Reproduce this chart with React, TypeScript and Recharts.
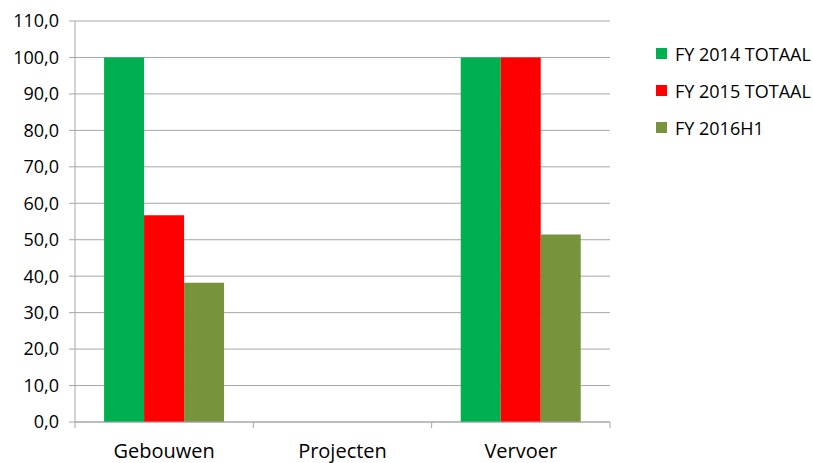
import React from 'react'
import { BarChart, Bar, XAxis, YAxis, CartesianGrid } from 'recharts'

const categories = ['Gebouwen', 'Projecten', 'Vervoer']
const fy2014 = [100, 0, 100]
const fy2015 = [56.7, 0, 100]
const fy2016h1 = [38.2, 0, 51.4]
const yTicks = [0, 10, 20, 30, 40, 50, 60, 70, 80, 90, 100, 110]

const series = [
  { key: 'fy2014', name: 'FY 2014 TOTAAL', color: '#00B050' },
  { key: 'fy2015', name: 'FY 2015 TOTAAL', color: '#FF0000' },
  { key: 'fy2016h1', name: 'FY 2016H1', color: '#77933C' },
]

const data = categories.map((c, i) => ({
  name: c,
  fy2014: fy2014[i],
  fy2015: fy2015[i],
  fy2016h1: fy2016h1[i],
}))

const font = '"Open Sans", "Liberation Sans", sans-serif'
const axisColor = '#A6A6A6'

const XTick = (props: any) => {
  const { x, y, payload, width } = props
  const band = width / categories.length
  return (
    <g>
      <line x1={x + band / 2} y1={y - 8} x2={x + band / 2} y2={y - 2} stroke={axisColor} />
      {payload.index === 0 && (
        <line x1={x - band / 2} y1={y - 8} x2={x - band / 2} y2={y - 2} stroke={axisColor} />
      )}
      <text x={x} y={y + 28} textAnchor="middle" fill="#000" fontSize={20} fontFamily={font}>
        {payload.value}
      </text>
    </g>
  )
}

// legend drawn as an overlay so it does not squeeze the plot area
const ChartLegend = () => (
  <div style={{ position: 'absolute', left: 656, top: 35, fontFamily: font, fontSize: 18, color: '#000', whiteSpace: 'nowrap' }}>
    {series.map((s) => (
      <div key={s.key} style={{ display: 'flex', alignItems: 'center', height: 37 }}>
        <span style={{ width: 11, height: 11, background: s.color, marginRight: 8, display: 'inline-block' }} />
        {s.name}
      </div>
    ))}
  </div>
)

export default function App() {
  return (
    <div style={{ position: 'absolute', left: 0, top: 0, width: 813, height: 463, overflow: 'hidden', background: '#fff' }}>
      <BarChart
        width={813}
        height={463}
        data={data}
        margin={{ top: 21, right: 203, bottom: 11, left: 0 }}
        barCategoryGap="16.3%"
        barGap={0}
      >
        <CartesianGrid vertical={false} stroke={axisColor} />
        <XAxis
          dataKey="name"
          stroke={axisColor}
          tickLine={false}
          tick={<XTick />}
          interval={0}
          height={30}
        />
        <YAxis
          width={75}
          domain={[0, 110]}
          ticks={yTicks}
          interval={0}
          stroke={axisColor}
          tickSize={6}
          tickMargin={10}
          tick={{ fill: '#000', fontSize: 18, fontFamily: font }}
          tickFormatter={(v: number) => v.toFixed(1).replace('.', ',')}
        />
        {series.map((s) => (
          <Bar key={s.key} dataKey={s.key} name={s.name} fill={s.color} isAnimationActive={false} />
        ))}
      </BarChart>
      <ChartLegend />
    </div>
  )
}
